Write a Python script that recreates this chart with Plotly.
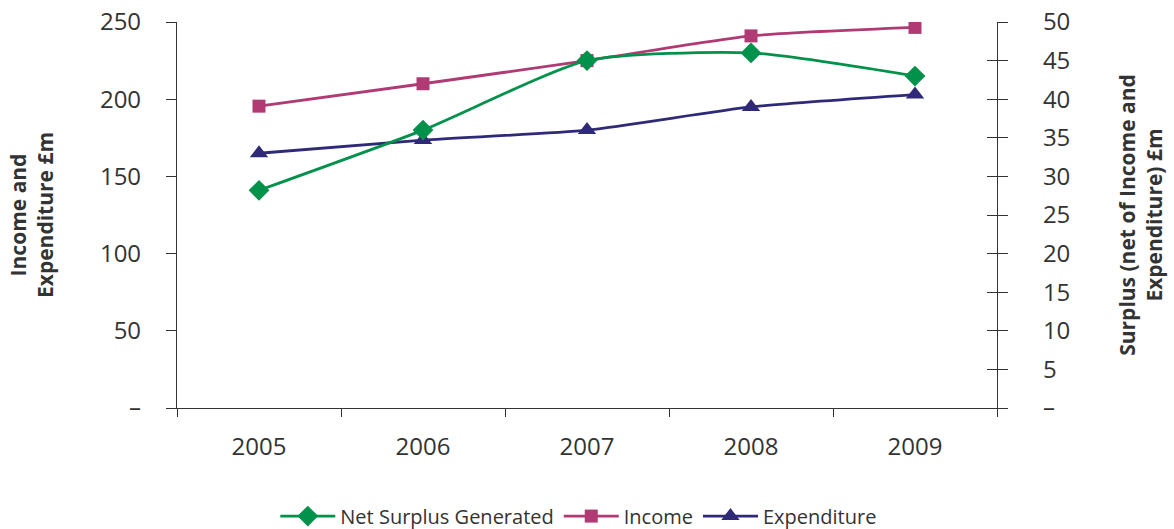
import plotly.graph_objects as go

years = ["2005", "2006", "2007", "2008", "2009"]
net_surplus = [28.2, 36.0, 45.0, 46.0, 43.0]
income = [195.5, 210.0, 225.0, 241.0, 246.5]
expenditure = [165.0, 173.5, 180.0, 195.0, 203.0]

left_ticks = [0, 50, 100, 150, 200, 250]
left_labels = ["–", "50", "100", "150", "200", "250"]
right_ticks = [0, 5, 10, 15, 20, 25, 30, 35, 40, 45, 50]
right_labels = ["–", "5", "10", "15", "20", "25", "30", "35", "40", "45", "50"]

GREEN = "#00914B"
PINK = "#B03A73"
NAVY = "#2E2A78"
TXT = "#333333"
FONT = "Open Sans"

fig = go.Figure()
fig.add_trace(go.Scatter(x=years, y=net_surplus, name="Net Surplus Generated", yaxis="y2",
                         mode="lines+markers", line=dict(color=GREEN, width=2.8, shape="spline", smoothing=0.6),
                         marker=dict(symbol="diamond", size=16, color=GREEN)))
fig.add_trace(go.Scatter(x=years, y=income, name="Income",
                         mode="lines+markers", line=dict(color=PINK, width=2.8, shape="spline", smoothing=0.6),
                         marker=dict(symbol="square", size=13, color=PINK)))
fig.add_trace(go.Scatter(x=years, y=expenditure, name="Expenditure",
                         mode="lines+markers", line=dict(color=NAVY, width=2.8, shape="spline", smoothing=0.6),
                         marker=dict(symbol="triangle-up", size=16, color=NAVY)))

fig.update_layout(
    width=1174, height=529,
    margin=dict(l=177, r=177, t=22, b=121, autoexpand=False),
    paper_bgcolor="white", plot_bgcolor="white",
    font=dict(family=FONT, color=TXT),
    showlegend=True,
    legend=dict(orientation="h", x=0.49, xanchor="center", y=-0.28, yanchor="middle",
                font=dict(size=20, color=TXT), traceorder="normal", itemwidth=55),
    xaxis=dict(type="category", range=[-0.5, 4.5], showline=True, linecolor=TXT, linewidth=1.2,
               ticks="outside", tickson="boundaries", ticklen=8, tickcolor=TXT, showgrid=False,
               tickfont=dict(size=24, color=TXT), zeroline=False, ticklabelstandoff=17),
    yaxis=dict(range=[0, 250], tickvals=left_ticks, ticktext=left_labels, showline=True,
               linecolor=TXT, linewidth=1.2, ticks="outside", ticklen=10, tickcolor=TXT,
               showgrid=False, zeroline=False, tickfont=dict(size=24, color=TXT), ticklabelstandoff=20,
               title=dict(text="<b>Income and<br>Expenditure £m</b>", font=dict(size=21, color=TXT), standoff=40)),
    yaxis2=dict(range=[0, 50], overlaying="y", side="right", anchor="x", tickvals=right_ticks,
                ticktext=right_labels, showline=True, linecolor=TXT, linewidth=1.2, ticks="outside",
                ticklen=10, tickcolor=TXT, showgrid=False, zeroline=False,
                tickfont=dict(size=24, color=TXT), ticklabelstandoff=30,
                title=dict(text="<b>Surplus (net of Income and<br>Expenditure) £m</b>", font=dict(size=21, color=TXT), standoff=50)),
    yaxis3=dict(range=[0, 50], overlaying="y", side="right", anchor="x", tickvals=right_ticks,
                showticklabels=False, showline=False, ticks="inside", ticklen=10, tickcolor=TXT,
                showgrid=False, zeroline=False),
)
fig.add_trace(go.Scatter(x=years, y=[None]*5, yaxis="y3", showlegend=False, hoverinfo="skip"))

fig.write_html("out.html")
